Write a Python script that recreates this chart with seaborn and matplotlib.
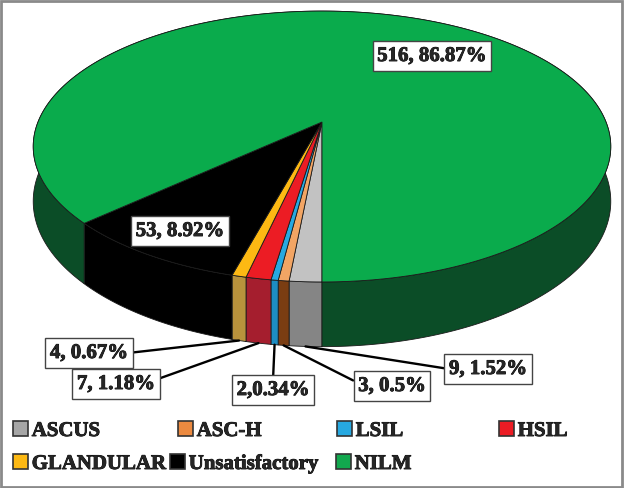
import numpy as np
import matplotlib
matplotlib.use("Agg")
import matplotlib.pyplot as plt
import matplotlib.patheffects as pe
from matplotlib.patches import Polygon, Rectangle, Patch
import seaborn as sns

# data
categories = ["ASCUS", "ASC-H", "LSIL", "HSIL", "GLANDULAR", "Unsatisfactory", "NILM"]
counts = [9, 3, 2, 7, 4, 53, 516]
value_labels = ["9, 1.52%", "3, 0.5%", "2,0.34%", "7, 1.18%", "4, 0.67%", "53, 8.92%", "516, 86.87%"]

# colours: top face, side wall, legend swatch
top_colors = ["#c2c2c2", "#f2a564", "#27a9e1", "#ec1c24", "#fdb913", "#000000", "#0aab4c"]
side_colors = ["#858585", "#7a3d12", "#1d8dc2", "#a51e2e", "#b8923c", "#000000", "#0b4d27"]
legend_colors = ["#a6a6a6", "#ec8a40", "#27a9e1", "#ec1c24", "#fdb913", "#000000", "#12a84e"]

# label box centres (pixels) and where the leader line leaves the box
label_pos = [(488, 370), (392, 387), (273, 391), (116, 385), (89, 354), (180, 232), (432, 57)]
label_relpos = [(0, 0.5), (0, 0.65), (0.5, 1), (1, 0.7), (1, 0.5), None, None]

sns.set_theme(style="white")
plt.rcParams["font.family"] = ["Liberation Serif", "DejaVu Serif"]
plt.rcParams["font.weight"] = "bold"

top_pal = sns.color_palette(top_colors)
side_pal = sns.color_palette(side_colors)
leg_pal = sns.color_palette(legend_colors)

# fake a heavier face, the serif bold file is not always there
heavy = [pe.withStroke(linewidth=0.6, foreground="black")]

fig = plt.figure(figsize=(6.24, 4.89), dpi=100)
ax = fig.add_axes([0, 0, 1, 1])
ax.set_xlim(0, 624)
ax.set_ylim(489, 0)
ax.axis("off")

# perspective pie geometry, in pixels
cx, cy = 322, 123
rx, ry, tilt, depth = 284, 131, 0.181, 53


def project(theta, drop=0.0):
    u, v = np.cos(theta), np.sin(theta)
    d = 1 + tilt * v
    return cx + rx * u / d, cy - (ry * v - drop) / d


frac = np.array(counts) / np.sum(counts)
start = -np.pi / 2 - 2 * np.pi * np.concatenate([[0], np.cumsum(frac)[:-1]])
end = start - 2 * np.pi * frac
mid = (start + end) / 2

# side walls first
for i in range(len(counts)):
    th = np.linspace(start[i], end[i], 400)
    tx, ty = project(th)
    bx, by = project(th, depth)
    pts = np.column_stack([np.concatenate([tx, bx[::-1]]), np.concatenate([ty, by[::-1]])])
    ax.add_patch(Polygon(pts, closed=True, fc=side_pal[i], ec="#1a1a1a", lw=0.6, zorder=1))

# top faces
for i in range(len(counts)):
    th = np.linspace(start[i], end[i], 400)
    tx, ty = project(th)
    pts = np.column_stack([np.concatenate([[cx], tx]), np.concatenate([[cy], ty])])
    ax.add_patch(Polygon(pts, closed=True, fc=top_pal[i], ec="#1a1a1a", lw=0.6, zorder=2))

# value labels
box = dict(boxstyle="square,pad=0.22", fc="white", ec="#444444", lw=1.0)
for i, txt in enumerate(value_labels):
    if label_relpos[i] is None:
        t = ax.text(*label_pos[i], txt, fontsize=15, fontweight="bold", ha="center", va="center",
                    bbox=box, zorder=5)
    else:
        t = ax.annotate(txt, xy=project(mid[i], depth), xytext=label_pos[i], fontsize=15,
                        fontweight="bold", ha="center", va="center", bbox=box, zorder=5,
                        arrowprops=dict(arrowstyle="-", color="black", lw=1.7, shrinkA=0, shrinkB=0,
                                        relpos=label_relpos[i]))
    t.set_path_effects(heavy)

# legend, Excel-style flow layout
leg_xy = [(13, 432), (178, 432), (337, 432), (499, 432), (13, 465), (170, 465), (336, 465)]
for i, name in enumerate(categories):
    h = Patch(fc=leg_pal[i], ec="#333333", lw=1.2)
    leg = fig.legend(handles=[h], labels=[name], loc="center left",
                     bbox_to_anchor=(leg_xy[i][0] / 624, 1 - leg_xy[i][1] / 489),
                     frameon=False, borderpad=0, borderaxespad=0,
                     handlelength=0.7, handleheight=0.7, handletextpad=0.2,
                     prop={"weight": "bold", "size": 15})
    for lt in leg.get_texts():
        lt.set_path_effects(heavy)

# outer frame
fig.add_artist(Rectangle((0.002, 0.002), 0.994, 0.994, transform=fig.transFigure,
                         fill=False, ec="#8a8a8a", lw=2))

fig.savefig("out.png", dpi=100)
